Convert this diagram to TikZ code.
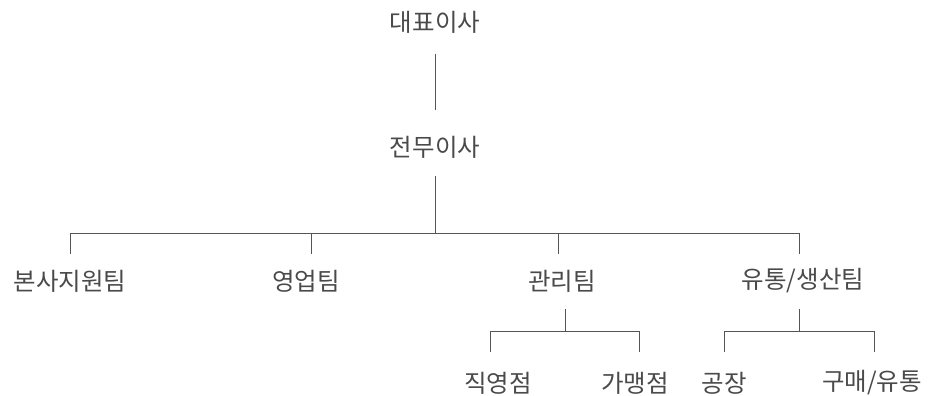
\documentclass[tikz,border=0pt]{standalone}
\usepackage{fontspec}
\setmainfont{Noto Sans CJK KR}
\definecolor{txt}{HTML}{4A4A4A}
\definecolor{ln}{HTML}{555555}
\begin{document}
\begin{tikzpicture}[x=1pt,y=-1pt,
  lbl/.style={inner sep=0pt,text=txt,font=\fontsize{24.5}{28}\selectfont},
  conn/.style={draw=ln,line width=1pt}]
\useasboundingbox (0,0) rectangle (929,396);
\node[lbl] (ceo) at (435,22) {대표이사};
\node[lbl] (md) at (435,147) {전무이사};
\node[lbl] (t1) at (70,281) {본사지원팀};
\node[lbl] (t2) at (306,281) {영업팀};
\node[lbl] (t3) at (562,281) {관리팀};
\node[lbl] (t4) at (803,281) {유통/생산팀};
\node[lbl] (s1) at (498,383) {직영점};
\node[lbl] (s2) at (635,383) {가맹점};
\node[lbl] (s3) at (724,383) {공장};
\node[lbl] (s4) at (872,383) {구매/유통};
\coordinate (ceoB) at (435,54);
\coordinate (mdT) at (435,110);
\coordinate (mdB) at (435,176);
\coordinate (bus) at (435,233);
\draw[conn] (ceoB) -- (mdT);
\draw[conn] (mdB) -- (bus);
\draw[conn] (70,254) -- (70,233) -- (799,233) -- (799,254);
\draw[conn] (311,233) -- (311,254);
\draw[conn] (558,233) -- (558,254);
\draw[conn] (565,309) -- (565,331);
\draw[conn] (490,352) -- (490,331) -- (639,331) -- (639,352);
\draw[conn] (799,309) -- (799,331);
\draw[conn] (724,352) -- (724,331) -- (874,331) -- (874,352);
\end{tikzpicture}
\end{document}
